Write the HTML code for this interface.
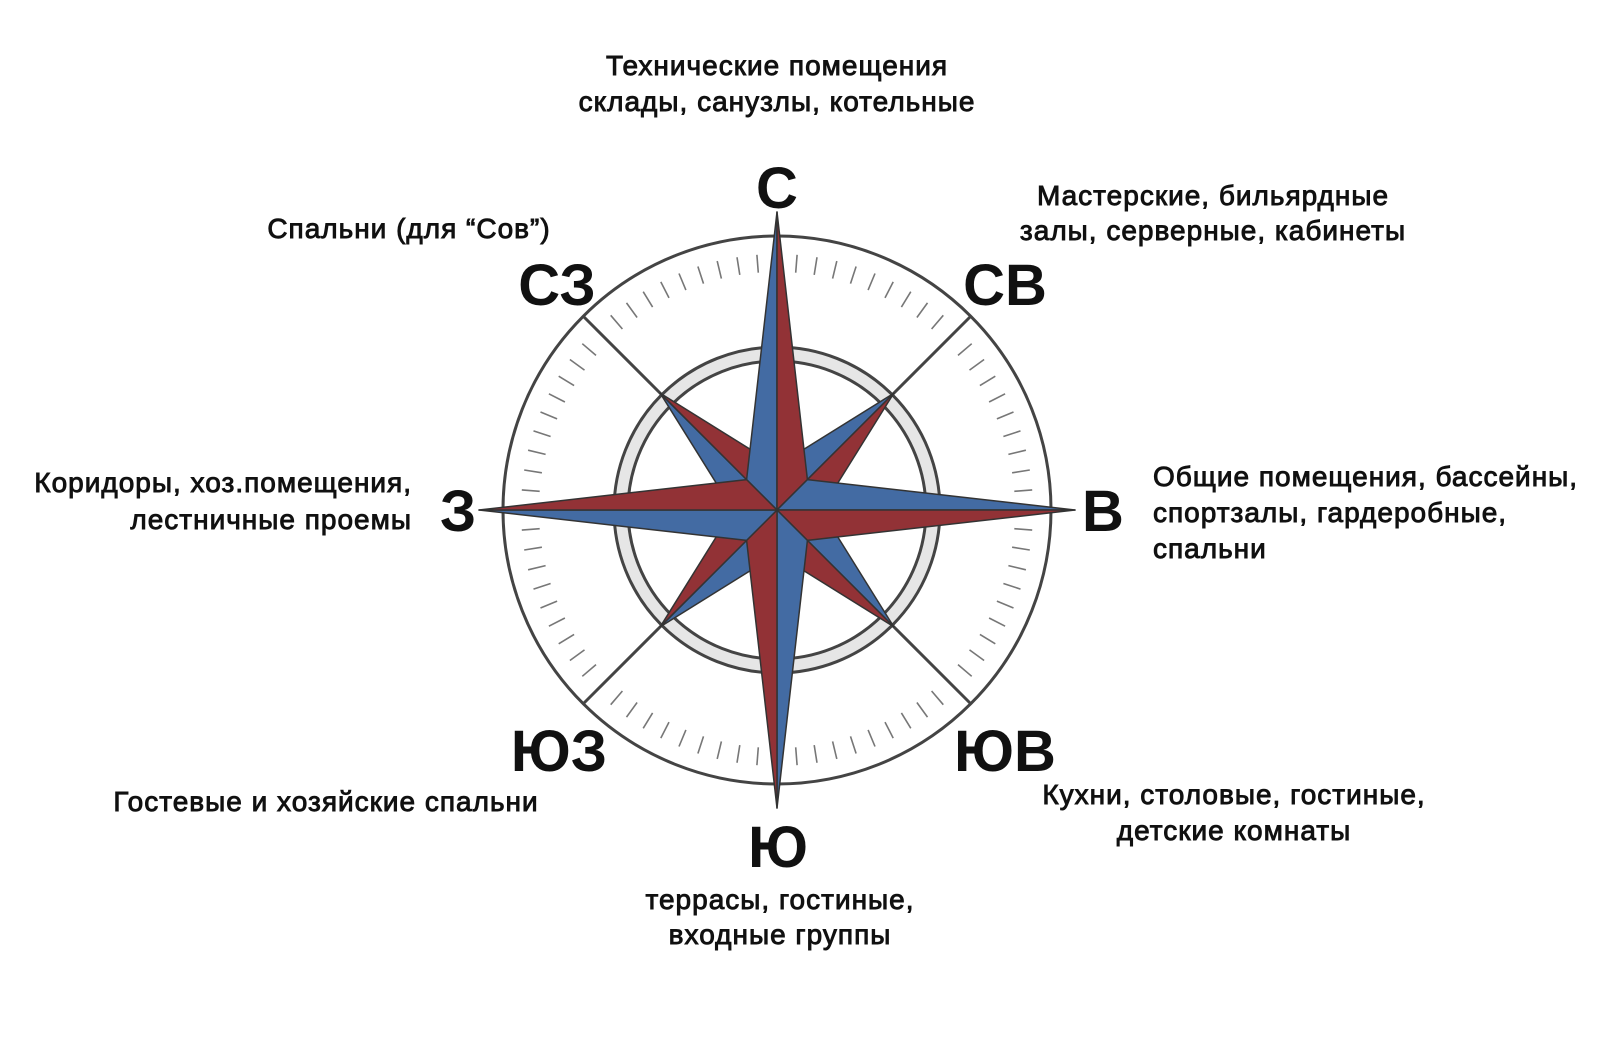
<!DOCTYPE html>
<html><head><meta charset="utf-8"><style>
html,body{margin:0;padding:0;background:#fff;}
svg{display:block;}
text{font-family:"Liberation Sans",sans-serif;fill:#111;}
.t{font-size:28px;stroke:#111;stroke-width:0.9px;letter-spacing:1px;}
.b{font-size:58px;font-weight:bold;}
</style></head><body>
<svg width="1600" height="1060" viewBox="0 0 1600 1060" xmlns="http://www.w3.org/2000/svg">
<g transform="translate(777,510)">
  <circle r="274" fill="none" stroke="#444" stroke-width="3"/>
  <g id="ticks" stroke="#777" stroke-width="1.6"></g>
  <g stroke="#444" stroke-width="3">
    <line x1="116" y1="-116" x2="194" y2="-194"/>
    <line x1="-116" y1="-116" x2="-194" y2="-194"/>
    <line x1="116" y1="116" x2="194" y2="194"/>
    <line x1="-116" y1="116" x2="-194" y2="194"/>
  </g>
  <circle r="156" fill="none" stroke="#e6e6e6" stroke-width="13"/>
  <circle r="163" fill="none" stroke="#444" stroke-width="3"/>
  <circle r="149" fill="none" stroke="#444" stroke-width="3"/>
  <g stroke="#333" stroke-width="1.5" stroke-linejoin="round">
    <g id="diag"></g>
    <g id="main"></g>
  </g>
</g>
<text class="t" x="777" y="75" text-anchor="middle">Технические помещения</text>
<text class="t" x="777" y="111" text-anchor="middle">склады, санузлы, котельные</text>
<text class="t" x="1213" y="205" text-anchor="middle">Мастерские, бильярдные</text>
<text class="t" x="1213" y="240" text-anchor="middle">залы, серверные, кабинеты</text>
<text class="t" x="409" y="238" text-anchor="middle">Спальни (для “Сов”)</text>
<text class="t" x="412" y="492" text-anchor="end">Коридоры, хоз.помещения,</text>
<text class="t" x="412" y="529" text-anchor="end">лестничные проемы</text>
<text class="t" x="1153" y="486">Общие помещения, бассейны,</text>
<text class="t" x="1153" y="522">спортзалы, гардеробные,</text>
<text class="t" x="1153" y="558">спальни</text>
<text class="t" x="326" y="811" text-anchor="middle">Гостевые и хозяйские спальни</text>
<text class="t" x="1234" y="804" text-anchor="middle">Кухни, столовые, гостиные,</text>
<text class="t" x="1234" y="840" text-anchor="middle">детские комнаты</text>
<text class="t" x="780" y="909" text-anchor="middle">террасы, гостиные,</text>
<text class="t" x="780" y="944" text-anchor="middle">входные группы</text>
<text class="b" x="777" y="208" text-anchor="middle">С</text>
<text class="b" x="557" y="305" text-anchor="middle">СЗ</text>
<text class="b" x="1005" y="305" text-anchor="middle">СВ</text>
<text class="b" x="458" y="531" text-anchor="middle">З</text>
<text class="b" x="1103" y="531" text-anchor="middle">В</text>
<text class="b" x="559" y="771" text-anchor="middle">ЮЗ</text>
<text class="b" x="1005" y="771" text-anchor="middle">ЮВ</text>
<text class="b" x="778" y="867" text-anchor="middle">Ю</text>
</svg>
<script>
var NS="http://www.w3.org/2000/svg";
function P(a,r){var t=a*Math.PI/180;return [(r*Math.sin(t)).toFixed(1),(-r*Math.cos(t)).toFixed(1)];}
var tk=document.getElementById("ticks");
for(var i=0;i<80;i++){var a=i*4.5;if(i%10==0)continue;
 var p1=P(a,238),p2=P(a,256);var l=document.createElementNS(NS,"line");
 l.setAttribute("x1",p1[0]);l.setAttribute("y1",p1[1]);l.setAttribute("x2",p2[0]);l.setAttribute("y2",p2[1]);tk.appendChild(l);}
function ray(g,a,tip,waist){
 var T=P(a,tip),L=P(a-45,waist),R=P(a+45,waist);
 var p=document.createElementNS(NS,"polygon");p.setAttribute("points","0,0 "+T.join(",")+" "+L.join(","));p.setAttribute("fill","#436ba3");g.appendChild(p);
 p=document.createElementNS(NS,"polygon");p.setAttribute("points","0,0 "+T.join(",")+" "+R.join(","));p.setAttribute("fill","#923236");g.appendChild(p);}
var d=document.getElementById("diag"),m=document.getElementById("main");
[45,135,225,315].forEach(function(a){ray(d,a,165,44);});
[0,90,180,270].forEach(function(a){ray(m,a,298,43);});
</script>
</body></html>
